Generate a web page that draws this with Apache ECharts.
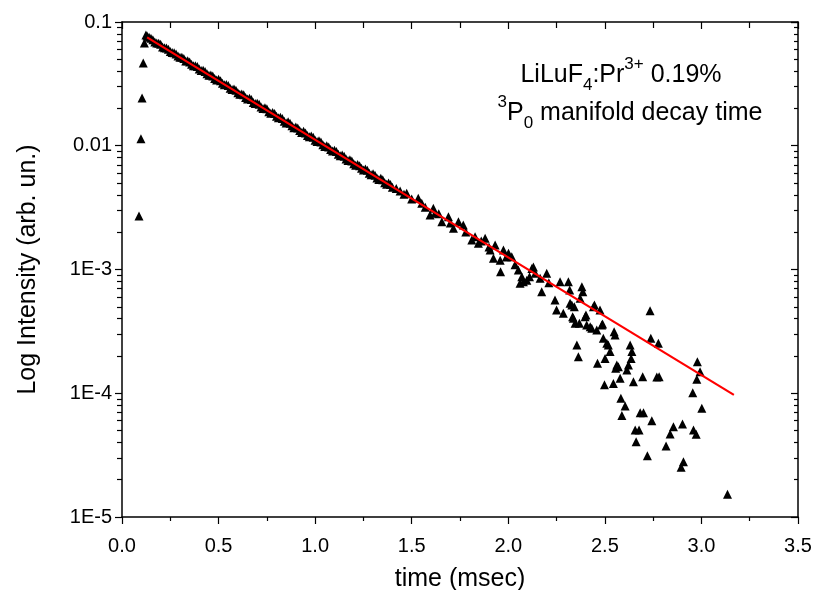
<!DOCTYPE html>
<html>
<head>
<meta charset="utf-8">
<title>LiLuF4:Pr3+ decay</title>
<script src="https://cdn.jsdelivr.net/npm/echarts@6/dist/echarts.min.js"></script>
<style>
  html, body { margin: 0; padding: 0; background: #fff; }
  #chart { width: 820px; height: 590px; }
</style>
</head>
<body>
<div id="chart"></div>
<script>
// measured decay (time in msec, intensity in arb. un.)
const timeVals = [
  0.088, 0.098, 0.104, 0.110, 0.116, 0.124, 0.130,
  0.14, 0.16, 0.18, 0.20, 0.22, 0.24, 0.26, 0.28, 0.30, 0.32,
  0.34, 0.36, 0.38, 0.40, 0.42, 0.44, 0.46, 0.48, 0.50, 0.52,
  0.54, 0.56, 0.58, 0.60, 0.62, 0.64, 0.66, 0.68, 0.70, 0.72,
  0.74, 0.76, 0.78, 0.80, 0.82, 0.84, 0.86, 0.88, 0.90, 0.92,
  0.94, 0.96, 0.98, 1.00, 1.02, 1.04, 1.06, 1.08, 1.10, 1.12,
  1.14, 1.16, 1.18, 1.20, 1.22, 1.24, 1.26, 1.28, 1.30, 1.32,
  1.34, 1.36, 1.38, 1.40, 1.42, 1.44, 1.46, 1.474, 1.50, 1.534,
  1.552, 1.57, 1.595, 1.612, 1.621, 1.64, 1.656, 1.690, 1.70, 1.716,
  1.742, 1.767, 1.78, 1.811, 1.828, 1.845, 1.86, 1.880, 1.90, 1.906,
  1.923, 1.932, 1.958, 1.960, 1.975, 1.99, 2.001, 2.018, 2.035, 2.052,
  2.061, 2.070, 2.078, 2.096, 2.110, 2.122, 2.130, 2.140, 2.165, 2.173,
  2.199, 2.210, 2.242, 2.250, 2.268, 2.285, 2.311, 2.318, 2.320, 2.329,
  2.333, 2.337, 2.342, 2.346, 2.355, 2.363, 2.368, 2.372, 2.381, 2.386,
  2.398, 2.402, 2.406, 2.424, 2.432, 2.441, 2.446, 2.458, 2.462, 2.475,
  2.484, 2.488, 2.492, 2.498, 2.501, 2.510, 2.518, 2.527, 2.544, 2.548,
  2.553, 2.556, 2.562, 2.570, 2.579, 2.583, 2.588, 2.605, 2.614, 2.622,
  2.631, 2.636, 2.640, 2.648, 2.657, 2.662, 2.677, 2.683, 2.696, 2.700,
  2.720, 2.734, 2.738, 2.743, 2.769, 2.777, 2.781, 2.817, 2.838, 2.855,
  2.895, 2.902, 2.907, 2.955, 2.959, 2.973, 2.976, 2.979, 2.993, 3.002,
  3.135
];
const intensityVals = [
  0.0027, 0.0114, 0.0243, 0.0467, 0.0676, 0.0785, 0.0770,
  0.0752, 0.0718, 0.0675, 0.0660, 0.0618, 0.0601, 0.0566, 0.0551, 0.0520, 0.0508,
  0.0486, 0.0455, 0.0443, 0.0417, 0.0408, 0.0381, 0.0373, 0.0349, 0.0344, 0.0320,
  0.0313, 0.0292, 0.0287, 0.0268, 0.0262, 0.0245, 0.0242, 0.0224, 0.0221, 0.0206,
  0.0203, 0.0188, 0.0186, 0.0173, 0.0170, 0.0158, 0.0156, 0.0145, 0.0142, 0.0133,
  0.0131, 0.0121, 0.0120, 0.0111, 0.0110, 0.0102, 0.0100, 0.00932, 0.00918, 0.00855,
  0.00843, 0.00782, 0.00771, 0.00716, 0.00706, 0.00657, 0.00648, 0.00600, 0.00595, 0.00550,
  0.00546, 0.00503, 0.00499, 0.00462, 0.00452, 0.00431, 0.00405, 0.00413, 0.00372, 0.00376,
  0.00343, 0.00318, 0.00276, 0.00313, 0.00285, 0.00282, 0.00243, 0.00267, 0.00238, 0.00215,
  0.00243, 0.00229, 0.00201, 0.00173, 0.00184, 0.00163, 0.00170, 0.00179, 0.00152, 0.00144,
  0.00123, 0.00158, 0.00119, 0.00096, 0.00144, 0.00126, 0.00135, 0.00127, 0.00109, 0.00099,
  0.000774, 0.000875, 0.000796, 0.00082, 0.000875, 0.00102, 0.00105, 0.000931, 0.00085, 0.000662,
  0.000931, 0.00078, 0.000567, 0.000471, 0.000796, 0.000443, 0.000796, 0.000683, 0.000533, 0.000516,
  0.000416, 0.000404, 0.0005, 0.000367, 0.000245, 0.000197, 0.000367, 0.000585, 0.000726, 0.000662,
  0.000416, 0.000429, 0.000356, 0.000345, 0.000335, 0.0005, 0.000516, 0.000324, 0.000175, 0.000471,
  0.000356, 0.000363, 0.000278, 0.000117, 0.000191, 0.000253, 0.000245, 0.000217, 0.00012, 0.000314,
  0.000296, 0.000159, 0.000169, 0.000164, 0.000132, 0.000091, 0.000066, 0.000079, 0.000154, 0.000169,
  0.000245, 0.000191, 0.000217, 0.000124, 0.0000505, 0.0000406, 0.0000505, 0.0000697, 0.000136, 0.0000697,
  0.0000313, 0.000465, 0.000278, 0.00006, 0.000135, 0.000253, 0.000136, 0.0000375, 0.0000469, 0.0000537,
  0.0000252, 0.0000565, 0.000028, 0.000101, 0.0000505, 0.0000466, 0.00013, 0.00018, 0.000149, 0.0000755,
  0.0000153
];

// in-between samples of the dense early part of the decay
const timeVals2 = [
  0.15, 0.17, 0.19, 0.21, 0.23, 0.25, 0.27, 0.29, 0.31, 0.33,
  0.35, 0.37, 0.39, 0.41, 0.43, 0.45, 0.47, 0.49, 0.51, 0.53,
  0.55, 0.57, 0.59, 0.61, 0.63, 0.65, 0.67, 0.69, 0.71, 0.73,
  0.75, 0.77, 0.79, 0.81, 0.83, 0.85, 0.87, 0.89, 0.91, 0.93,
  0.95, 0.97, 0.99, 1.01, 1.03, 1.05, 1.07, 1.09, 1.11, 1.13,
  1.15, 1.17, 1.19, 1.21, 1.23, 1.25, 1.27, 1.29, 1.31, 1.33,
  1.35, 1.37, 1.39
];
const intensityVals2 = [
  0.0738, 0.0689, 0.0672, 0.0629, 0.0617, 0.0578, 0.0563, 0.0531, 0.0519, 0.0484,
  0.0475, 0.0444, 0.0436, 0.0405, 0.0398, 0.0371, 0.0366, 0.0340, 0.0335, 0.0311,
  0.0307, 0.0285, 0.0281, 0.0261, 0.0258, 0.0239, 0.0236, 0.0219, 0.0216, 0.0200,
  0.0199, 0.0183, 0.0182, 0.0168, 0.0166, 0.0153, 0.0152, 0.0140, 0.0139, 0.0128,
  0.0127, 0.0118, 0.0117, 0.0108, 0.0107, 0.00985, 0.00978, 0.00905, 0.00897, 0.00830,
  0.00822, 0.00760, 0.00752, 0.00697, 0.00690, 0.00638, 0.00633, 0.00583, 0.00578, 0.00534,
  0.00531, 0.00489, 0.00486
];

// single exponential fit (straight on log axis)
const fitTime = [0.13, 3.168];
const fitVals = [0.0752, 0.000097];

const xTicks = ['0.0', '0.5', '1.0', '1.5', '2.0', '2.5', '3.0', '3.5'];

const FONT = '"Liberation Sans", Arial, sans-serif';

const chart = echarts.init(document.getElementById('chart'));

function logLabel(v) {
  const e = Math.round(Math.log10(v));
  if (e >= -2) return e === -1 ? '0.1' : '0.01';
  return '1E' + e;
}

// log minor tick positions 2..9 x 10^k
const minorLogTicks = [];
for (let k = -5; k <= -2; k++) {
  for (let m = 2; m <= 9; m++) minorLogTicks.push(m * Math.pow(10, k));
}

const axisLine = { show: true, onZero: false, lineStyle: { color: '#000', width: 1.5 } };
const tickLine = { color: '#000', width: 1.2 };
const gridBox = { left: 122, right: 22, top: 22, bottom: 73, containLabel: false, outerBoundsMode: 'none' };

const yBase = {
  type: 'log',
  logBase: 10,
  min: 1e-5,
  max: 0.1,
  splitLine: { show: false },
};

const points = timeVals.map((t, i) => [t, intensityVals[i]])
  .concat(timeVals2.map((t, i) => [t, intensityVals2[i]]));

chart.setOption({
  animation: false,
  backgroundColor: '#fff',
  grid: [gridBox, Object.assign({}, gridBox)],
  xAxis: [
    {
      type: 'value',
      gridIndex: 0,
      position: 'bottom',
      min: 0,
      max: 3.5,
      interval: 0.5,
      axisLine: axisLine,
      axisTick: { show: true, inside: false, length: 7, lineStyle: tickLine },
      minorTick: { show: true, splitNumber: 2, length: 4, lineStyle: tickLine },
      splitLine: { show: false },
      axisLabel: {
        color: '#000', fontSize: 20, fontFamily: FONT, margin: 19,
        formatter: (v) => xTicks[Math.round(v / 0.5)]
      },
      name: 'time (msec)',
      nameLocation: 'middle',
      nameGap: 50,
      nameTextStyle: { color: '#000', fontSize: 25, fontFamily: FONT }
    },
    {
      type: 'value',
      gridIndex: 0,
      position: 'top',
      min: 0,
      max: 3.5,
      interval: 0.5,
      axisLine: axisLine,
      axisTick: { show: true, inside: true, length: 7, lineStyle: tickLine },
      minorTick: { show: true, splitNumber: 2, length: 6, lineStyle: tickLine },
      splitLine: { show: false },
      axisLabel: { show: false }
    },
    {
      type: 'value',
      gridIndex: 1,
      show: false,
      min: 0,
      max: 3.5
    }
  ],
  yAxis: [
    Object.assign({}, yBase, {
      gridIndex: 0,
      position: 'left',
      axisLine: axisLine,
      axisTick: { show: true, inside: false, length: 7, lineStyle: tickLine },
      axisLabel: { color: '#000', fontSize: 20, fontFamily: FONT, margin: 10, formatter: logLabel },
      name: 'Log Intensity (arb. un.)',
      nameLocation: 'middle',
      nameRotate: 90,
      nameGap: 81,
      nameTextStyle: { color: '#000', fontSize: 25, fontFamily: FONT }
    }),
    Object.assign({}, yBase, {
      gridIndex: 0,
      position: 'right',
      axisLine: axisLine,
      axisTick: { show: true, inside: true, length: 7, lineStyle: tickLine },
      axisLabel: { show: false }
    }),
    // minor log ticks live on a twin grid so they can share the left/right edges
    Object.assign({}, yBase, {
      gridIndex: 1,
      position: 'left',
      axisLine: { show: false, onZero: false },
      axisTick: { show: true, inside: false, length: 5, customValues: minorLogTicks, lineStyle: tickLine },
      axisLabel: { show: false }
    }),
    Object.assign({}, yBase, {
      gridIndex: 1,
      position: 'right',
      axisLine: { show: false, onZero: false },
      axisTick: { show: true, inside: true, length: 4, customValues: minorLogTicks, lineStyle: tickLine },
      axisLabel: { show: false }
    })
  ],
  series: [
    {
      name: 'data',
      type: 'scatter',
      xAxisIndex: 0,
      yAxisIndex: 0,
      symbol: 'triangle',
      symbolSize: 9,
      itemStyle: { color: '#000', opacity: 1 },
      data: points
    },
    {
      name: 'fit',
      type: 'line',
      xAxisIndex: 0,
      yAxisIndex: 0,
      showSymbol: false,
      symbol: 'none',
      lineStyle: { color: '#ff0000', width: 2.2 },
      data: fitTime.map((t, i) => [t, fitVals[i]])
    }
  ],
  graphic: [
    {
      type: 'text',
      x: 621,
      y: 75,
      style: {
        text: '{n|LiLuF}{sub|4}{n|:Pr}{sup|3+}{n| 0.19%}',
        align: 'center',
        verticalAlign: 'middle',
        rich: {
          n: { fontSize: 25, fontFamily: FONT, fill: '#000', lineHeight: 38, verticalAlign: 'middle' },
          sub: { fontSize: 17, fontFamily: FONT, fill: '#000', verticalAlign: 'bottom' },
          sup: { fontSize: 17, fontFamily: FONT, fill: '#000', verticalAlign: 'top' }
        }
      }
    },
    {
      type: 'text',
      x: 630,
      y: 113,
      style: {
        text: '{sup|3}{n|P}{sub|0}{n| manifold decay time}',
        align: 'center',
        verticalAlign: 'middle',
        rich: {
          n: { fontSize: 25, fontFamily: FONT, fill: '#000', lineHeight: 38, verticalAlign: 'middle' },
          sub: { fontSize: 17, fontFamily: FONT, fill: '#000', verticalAlign: 'bottom' },
          sup: { fontSize: 17, fontFamily: FONT, fill: '#000', verticalAlign: 'top' }
        }
      }
    }
  ]
});
</script>
</body>
</html>
